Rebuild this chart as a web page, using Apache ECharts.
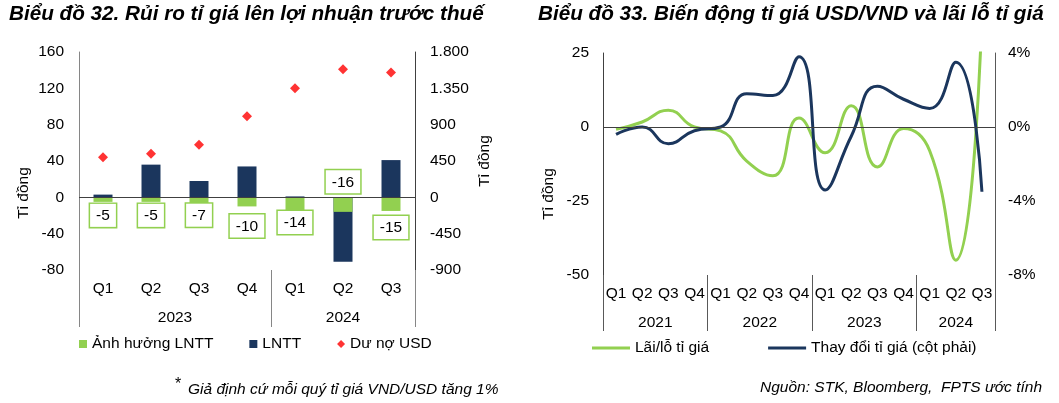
<!DOCTYPE html>
<html>
<head>
<meta charset="utf-8">
<script src="https://cdn.jsdelivr.net/npm/echarts@6/dist/echarts.min.js"></script>
<style>
  html, body { margin: 0; padding: 0; background: #fff; }
  #chart { width: 1059px; height: 403px; }
</style>
</head>
<body>
<div id="chart"></div>
<script>
// ---------- Chart 32 data ----------
const quartersLeft = ['Q1', 'Q2', 'Q3', 'Q4', 'Q1', 'Q2', 'Q3'];
const yearsLeft = ['2023', '2024'];
const yearSizesLeft = [4, 3];
const impactLNTT = [-5, -5, -7, -10, -14, -16, -15];
const lntt = [3, 36, 18, 34, 1, -71, 41];
const usdDebt = [495, 540, 650, 1005, 1350, 1585, 1545];

// ---------- Chart 33 data ----------
const quartersRight = ['Q1', 'Q2', 'Q3', 'Q4', 'Q1', 'Q2', 'Q3', 'Q4', 'Q1', 'Q2', 'Q3', 'Q4', 'Q1', 'Q2', 'Q3'];
const yearsRight = ['2021', '2022', '2023', '2024'];
const yearSizesRight = [4, 4, 4, 3];
const fxGainLoss = [-0.8, 1.7, 5.7, 0, -1.3, -11.5, -16.5, 3, -8.7, 7.2, -13.5, -0.5, -8, -45, 38];
const fxChange = [-0.4, 0, -0.9, -0.2, 0, 1.8, 1.7, 3.8, -3.4, -0.5, 2.2, 1.5, 1.0, 3.5, -3.5];

// label placement for the boxed impact labels (style only)
const impactLabelPlace = [['bottom', 2], ['bottom', 2], ['bottom', 0], ['bottom', 8], ['bottom', 1], ['top', 4], ['bottom', 5]];

const FONT = '"Liberation Sans", Arial, sans-serif';
const FS = 15.5;
const GREEN = '#92D050';
const NAVY = '#1b365d';

function groupStarts(sizes) {
  const r = []; let s = 0;
  sizes.forEach(c => { r.push(s); s += c; });
  return r;
}
function yearAxisData(years, sizes) {
  const n = sizes.reduce((a, b) => a + b, 0);
  const arr = new Array(2 * n + 1).fill('');
  let s = 0;
  years.forEach((y, i) => { arr[2 * s + sizes[i]] = y; s += sizes[i]; });
  return arr;
}
const startsL = groupStarts(yearSizesLeft);
const startsR = groupStarts(yearSizesRight);

function quarterAxis(grid, data, starts, tickLen, tickColor) {
  return {
    type: 'category', gridIndex: grid, data: data, position: 'bottom',
    axisLine: { show: false, onZero: false },
    axisTick: { show: true, length: tickLen, interval: (i) => starts.indexOf(i) >= 0, lineStyle: { color: tickColor, width: 1 } },
    axisLabel: { interval: 0, margin: 11, fontSize: FS, color: '#000', fontFamily: FONT },
    splitLine: { show: false }
  };
}
function yearAxis(grid, years, sizes) {
  return {
    type: 'category', gridIndex: grid, data: yearAxisData(years, sizes), position: 'bottom',
    boundaryGap: false, offset: 29,
    axisLine: { show: false, onZero: false },
    axisTick: { show: false },
    axisLabel: { interval: 0, margin: 11, fontSize: FS, color: '#000', fontFamily: FONT },
    splitLine: { show: false }
  };
}
function valAxis(grid, pos, min, max, interval, color, fmt, margin) {
  return {
    type: 'value', gridIndex: grid, position: pos, min: min, max: max, interval: interval,
    axisLine: { show: true, onZero: false, lineStyle: { color: color, width: 1 } },
    axisTick: { show: false },
    splitLine: { show: false },
    axisLabel: { margin: margin, fontSize: FS, color: '#000', fontFamily: FONT, formatter: fmt }
  };
}
const dotThousands = v => {
  const s = Math.abs(v).toString().replace(/\B(?=(\d{3})+(?!\d))/g, '.');
  return (v < 0 ? '-' : '') + s;
};

const zeroLine = (color) => ({
  silent: true, symbol: 'none', label: { show: false },
  lineStyle: { color: color, width: 1, type: 'solid' },
  emphasis: { disabled: true },
  data: [{ yAxis: 0 }]
});

const option = {
  animation: false,
  textStyle: { fontFamily: FONT },
  title: [
    { text: 'Biểu đồ 32. Rủi ro tỉ giá lên lợi nhuận trước thuế', left: 9, top: 4, padding: 0,
      textStyle: { fontSize: 20.7, fontWeight: 'bold', fontStyle: 'italic', color: '#000', fontFamily: FONT } },
    { text: 'Biểu đồ 33. Biến động tỉ giá USD/VND và lãi lỗ tỉ giá', left: 538, top: 4, padding: 0,
      textStyle: { fontSize: 20.7, fontWeight: 'bold', fontStyle: 'italic', color: '#000', fontFamily: FONT } }
  ],
  grid: [
    { left: 79, top: 52, width: 336, height: 218, containLabel: false },
    { left: 603, top: 53, width: 392, height: 222, containLabel: false }
  ],
  legend: [
    { left: 79, top: 336, padding: 0, itemWidth: 8, itemHeight: 8, itemGap: 36, selectedMode: false,
      textStyle: { fontSize: FS, color: '#000', fontFamily: FONT },
      data: [{ name: 'Ảnh hưởng LNTT', icon: 'rect' }, { name: 'LNTT', icon: 'rect' }, { name: 'Dư nợ USD', icon: 'diamond' }] },
    { left: 592, top: 340, padding: 0, itemWidth: 38, itemHeight: 3, itemGap: 59, selectedMode: false,
      textStyle: { fontSize: FS, color: '#000', fontFamily: FONT },
      data: [{ name: 'Lãi/lỗ tỉ giá', icon: 'rect' }, { name: 'Thay đổi tỉ giá (cột phải)', icon: 'rect' }] }
  ],
  xAxis: [
    quarterAxis(0, quartersLeft, startsL, 57, '#868686'),
    yearAxis(0, yearsLeft, yearSizesLeft),
    quarterAxis(1, quartersRight, startsR, 56, '#595959'),
    yearAxis(1, yearsRight, yearSizesRight)
  ],
  yAxis: [
    valAxis(0, 'left', -80, 160, 40, '#868686', v => v, 15),
    valAxis(0, 'right', -900, 1800, 450, '#404040', dotThousands, 15),
    valAxis(1, 'left', -50, 25, 25, '#404040', v => v, 14),
    valAxis(1, 'right', -8, 4, 4, '#595959', v => v + '%', 13)
  ],
  graphic: [
    { type: 'text', x: 24, y: 193, rotation: Math.PI / 2,
      style: { text: 'Tỉ đồng', fontSize: FS, fontFamily: FONT, fill: '#000', align: 'center', verticalAlign: 'middle', textAlign: 'center', textVerticalAlign: 'middle' } },
    { type: 'text', x: 485, y: 161, rotation: Math.PI / 2,
      style: { text: 'Tỉ đồng', fontSize: FS, fontFamily: FONT, fill: '#000', align: 'center', verticalAlign: 'middle', textAlign: 'center', textVerticalAlign: 'middle' } },
    { type: 'text', x: 549, y: 194, rotation: Math.PI / 2,
      style: { text: 'Tỉ đồng', fontSize: FS, fontFamily: FONT, fill: '#000', align: 'center', verticalAlign: 'middle', textAlign: 'center', textVerticalAlign: 'middle' } },
    { type: 'text', x: 175, y: 385,
      style: { text: '*', fontSize: 16, fontFamily: FONT, fill: '#000', align: 'left', verticalAlign: 'middle', textAlign: 'left', textVerticalAlign: 'middle' } },
    { type: 'text', x: 188, y: 390,
      style: { text: 'Giả định cứ mỗi quý tỉ giá VND/USD tăng 1%', fontSize: FS, fontStyle: 'italic', fontFamily: FONT, fill: '#000', align: 'left', verticalAlign: 'middle', textAlign: 'left', textVerticalAlign: 'middle' } },
    { type: 'text', x: 1042, y: 388,
      style: { text: 'Nguồn: STK, Bloomberg,  FPTS ước tính', fontSize: FS, fontStyle: 'italic', fontFamily: FONT, fill: '#000', align: 'right', verticalAlign: 'middle', textAlign: 'right', textVerticalAlign: 'middle' } }
  ],
  series: [
    { name: 'LNTT', type: 'bar', xAxisIndex: 0, yAxisIndex: 0, data: lntt, barWidth: 19, barGap: '-100%',
      itemStyle: { color: NAVY } },
    { name: 'Ảnh hưởng LNTT', type: 'bar', xAxisIndex: 0, yAxisIndex: 0, barWidth: 19, barGap: '-100%',
      itemStyle: { color: GREEN },
      data: impactLNTT.map((v, i) => ({
        value: v,
        label: { position: impactLabelPlace[i][0], distance: impactLabelPlace[i][1] }
      })),
      label: { show: true, formatter: '{c}', color: '#000', fontSize: FS, fontFamily: FONT,
        backgroundColor: '#fff', borderColor: GREEN, borderWidth: 1.5, padding: [4, 6, 3, 6] },
      markLine: zeroLine('#404040') },
    { name: 'Dư nợ USD', type: 'scatter', xAxisIndex: 0, yAxisIndex: 1, data: usdDebt,
      symbol: 'diamond', symbolSize: 10, itemStyle: { color: '#ff0000' } },
    { name: 'Lãi/lỗ tỉ giá', type: 'line', xAxisIndex: 2, yAxisIndex: 2, data: fxGainLoss,
      smooth: 0.5, showSymbol: false, clip: true, lineStyle: { color: GREEN, width: 3 }, itemStyle: { color: GREEN },
      markLine: zeroLine('#404040') },
    { name: 'Thay đổi tỉ giá (cột phải)', type: 'line', xAxisIndex: 2, yAxisIndex: 3, data: fxChange,
      smooth: 0.5, showSymbol: false, clip: true, lineStyle: { color: NAVY, width: 3 }, itemStyle: { color: NAVY } }
  ]
};

const chart = echarts.init(document.getElementById('chart'), null, { renderer: 'canvas' });
chart.setOption(option);
</script>
</body>
</html>
